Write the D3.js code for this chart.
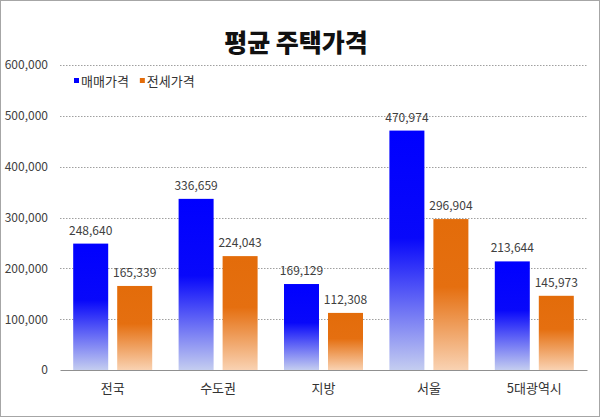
<!DOCTYPE html>
<html><head><meta charset="utf-8">
<script src="https://cdn.jsdelivr.net/npm/d3@7"></script>
<style>body{margin:0;background:#fff}svg{display:block}</style>
</head><body>
<script>
const categories = ["전국","수도권","지방","서울","5대광역시"];
const seriesNames = ["매매가격","전세가격"];
const saleValues = [248640,336659,169129,470974,213644];
const jeonseValues = [165339,224043,112308,296904,145973];
const yTicks = [0,100000,200000,300000,400000,500000,600000];

const W=600,H=417;
const m={left:60,right:13,top:65,bottom:47};
const svg=d3.select("body").append("svg").attr("width",W).attr("height",H);
const font="'Malgun Gothic','Noto Sans CJK KR',sans-serif";

svg.append("rect").attr("x",0.5).attr("y",0.5).attr("width",W-1).attr("height",H-1)
  .attr("fill","#fff").attr("stroke","#a6a6a6");

const defs=svg.append("defs");
const g1=defs.append("linearGradient").attr("id","gBlue").attr("x1",0).attr("y1",0).attr("x2",0).attr("y2",1);
g1.append("stop").attr("offset","0").attr("stop-color","#0000ff");
g1.append("stop").attr("offset","0.45").attr("stop-color","#0808fa");
g1.append("stop").attr("offset","1").attr("stop-color","#c4cdf0");
const g2=defs.append("linearGradient").attr("id","gOrange").attr("x1",0).attr("y1",0).attr("x2",0).attr("y2",1);
g2.append("stop").attr("offset","0").attr("stop-color","#e36c0a");
g2.append("stop").attr("offset","0.45").attr("stop-color","#e56f10");
g2.append("stop").attr("offset","1").attr("stop-color","#f9d2b2");

const x=d3.scaleBand().domain(categories).range([m.left,W-m.right]).paddingInner(0).paddingOuter(0);
const y=d3.scaleLinear().domain([0,600000]).range([H-m.bottom,m.top]);
const bw=x.bandwidth();
const x1=d3.scaleBand().domain(seriesNames).range([(bw-79)/2,(bw+79)/2]).paddingInner(9/44).paddingOuter(0);

// grid
svg.append("g").selectAll("line").data(yTicks.filter(d=>d>0)).join("line")
  .attr("x1",m.left).attr("x2",W-m.right).attr("y1",d=>Math.round(y(d))+0.5).attr("y2",d=>Math.round(y(d))+0.5)
  .attr("stroke","#a0a0a0").attr("stroke-dasharray","1.5,1.5");

// y axis labels
const yAxis=d3.axisLeft(y).tickValues(yTicks).tickFormat(d3.format(",")).tickSize(0).tickPadding(12);
const ya=svg.append("g").attr("transform",`translate(${m.left},0)`).call(yAxis);
ya.select(".domain").remove();
ya.selectAll("text").attr("font-family",font).attr("font-size",12).attr("fill","#404040");

const data=[saleValues,jeonseValues];
const fills=["url(#gBlue)","url(#gOrange)"];
seriesNames.forEach((s,si)=>{
  const gg=svg.append("g");
  gg.selectAll("rect").data(categories).join("rect")
    .attr("x",c=>x(c)+x1(s)).attr("width",x1.bandwidth())
    .attr("y",(c,i)=>y(data[si][i])).attr("height",(c,i)=>y(0)-y(data[si][i]))
    .attr("fill",fills[si]);
  gg.selectAll("text").data(categories).join("text")
    .attr("x",c=>x(c)+x1(s)+x1.bandwidth()/2).attr("y",(c,i)=>y(data[si][i])-9)
    .attr("text-anchor","middle").attr("font-family",font).attr("font-size",12).attr("fill","#404040")
    .text((c,i)=>d3.format(",")(data[si][i]));
});

// x axis
const xAxis=d3.axisBottom(x).tickSize(0).tickPadding(14);
const xa=svg.append("g").attr("transform",`translate(0,${y(0)})`).call(xAxis);
xa.select(".domain").attr("stroke","#909090");
xa.selectAll("text").attr("font-family",font).attr("font-size",13).attr("fill","#333");

// title
svg.append("text").attr("x",296).attr("y",52).attr("text-anchor","middle")
  .attr("font-family",font).attr("font-size",25).attr("font-weight",900).attr("fill","#111")
  .text("평균 주택가격");

// legend
const legColors=["#0000ff","#e36c0a"];
const lg=svg.append("g").attr("transform","translate(74,86)");
let lx=0;
seriesNames.forEach((s,i)=>{
  lg.append("rect").attr("x",lx).attr("y",-8).attr("width",5).attr("height",5).attr("fill",legColors[i]);
  const t=lg.append("text").attr("x",lx+7).attr("y",0).attr("font-family",font).attr("font-size",13).attr("fill","#333").text(s);
  lx+=t.node().getComputedTextLength()+18;
});
</script>
</body></html>
